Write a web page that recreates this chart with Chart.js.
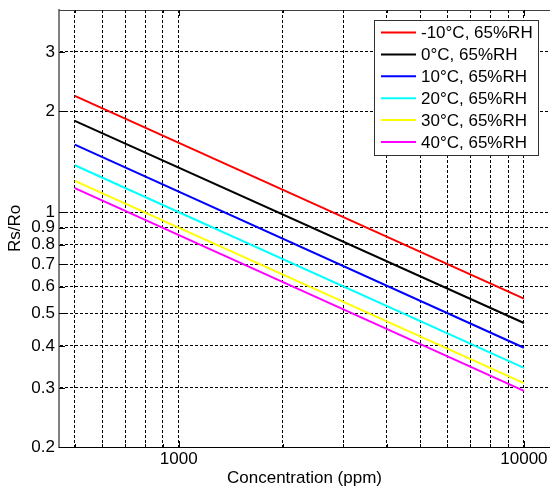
<!DOCTYPE html>
<html>
<head>
<meta charset="utf-8">
<script src="https://cdn.jsdelivr.net/npm/chart.js@4"></script>
<style>
  html, body { margin: 0; padding: 0; background: #fff; }
</style>
</head>
<body>
<canvas id="chart" width="550" height="491"></canvas>
<script>
// Concentration (ppm) at which each curve is sampled
const concentration = [500, 10000];

const seriesLabels = ['-10°C, 65%RH', '0°C, 65%RH', '10°C, 65%RH', '20°C, 65%RH', '30°C, 65%RH', '40°C, 65%RH'];
const seriesColors = ['#ff0000', '#000000', '#0000ff', '#00ffff', '#ffff00', '#ff00ff'];

// Rs/Ro values
const rsRoMinus10 = [2.22, 0.553];
const rsRo0 = [1.87, 0.468];
const rsRo10 = [1.59, 0.395];
const rsRo20 = [1.38, 0.344];
const rsRo30 = [1.24, 0.31];
const rsRo40 = [1.18, 0.294];

const xTicks = [500, 600, 700, 800, 900, 1000, 2000, 3000, 4000, 5000, 6000, 7000, 8000, 9000, 10000];
const xTickLabels = [1000, 10000];
const yTicks = [0.2, 0.3, 0.4, 0.5, 0.6, 0.7, 0.8, 0.9, 1, 2, 3];

const allSeries = [rsRoMinus10, rsRo0, rsRo10, rsRo20, rsRo30, rsRo40];

Chart.defaults.font.family = '"Liberation Sans", Arial, sans-serif';
Chart.defaults.font.size = 17;
Chart.defaults.color = '#000';

// MATLAB style frame: top border, inward ticks and a boxed legend
const framePlugin = {
  id: 'frame',
  afterDraw(chart) {
    const { ctx, chartArea: a, scales } = chart;
    ctx.save();

    ctx.strokeStyle = '#404040';
    ctx.lineWidth = 1;
    ctx.beginPath();
    ctx.moveTo(a.left, a.top + 0.5);
    ctx.lineTo(a.right, a.top + 0.5);
    ctx.stroke();

    // inward ticks
    ctx.strokeStyle = '#000';
    ctx.beginPath();
    xTicks.forEach(v => {
      const px = Math.round(scales.x.getPixelForValue(v)) + 0.5;
      const len = xTickLabels.includes(v) ? 6 : 3;
      ctx.moveTo(px, a.bottom);
      ctx.lineTo(px, a.bottom - len);
      ctx.moveTo(px, a.top);
      ctx.lineTo(px, a.top + len);
    });
    yTicks.forEach(v => {
      const py = Math.round(scales.y.getPixelForValue(v)) + 0.5;
      ctx.moveTo(a.left, py);
      ctx.lineTo(a.left + 6, py);
    });
    ctx.stroke();

    // legend
    const box = { x: 374.5, y: 20.5, w: 164, h: 135 };
    ctx.fillStyle = '#fff';
    ctx.fillRect(box.x, box.y, box.w, box.h);
    ctx.strokeStyle = '#333';
    ctx.strokeRect(box.x, box.y, box.w, box.h);
    ctx.font = '17px "Liberation Sans", Arial, sans-serif';
    ctx.textBaseline = 'middle';
    ctx.textAlign = 'left';
    chart.data.datasets.forEach((ds, i) => {
      const y = 32.5 + i * 21.9;
      ctx.strokeStyle = ds.borderColor;
      ctx.lineWidth = 2;
      ctx.beginPath();
      ctx.moveTo(381, y);
      ctx.lineTo(416, y);
      ctx.stroke();
      ctx.fillStyle = '#000';
      ctx.fillText(ds.label, 421, y + 1);
    });
    ctx.restore();
  }
};

new Chart(document.getElementById('chart'), {
  type: 'line',
  data: {
    datasets: allSeries.map((vals, i) => ({
      label: seriesLabels[i],
      data: vals.map((v, j) => ({ x: concentration[j], y: v })),
      borderColor: seriesColors[i],
      backgroundColor: seriesColors[i],
      borderWidth: 2,
      pointRadius: 0,
      tension: 0,
      fill: false,
    }))
  },
  options: {
    responsive: false,
    animation: false,
    devicePixelRatio: 1,
    layout: { padding: { top: 10, left: 0, right: 0, bottom: 0 } },
    plugins: {
      legend: { display: false },
      tooltip: { enabled: false },
    },
    scales: {
      x: {
        type: 'logarithmic',
        min: 450,
        max: 11900,
        afterBuildTicks: s => { s.ticks = xTicks.map(v => ({ value: v })); },
        afterFit: s => { s.height = 44; s.paddingLeft = 0; s.paddingRight = 0; },
        ticks: {
          autoSkip: false,
          maxRotation: 0,
          padding: 2,
          callback: v => xTickLabels.includes(v) ? String(v) : '',
        },
        grid: {
          color: '#000',
          lineWidth: 1,
          drawTicks: false,
        },
        border: { color: '#000', width: 1, dash: [3, 2] },
        title: {
          display: true,
          text: 'Concentration (ppm)',
          padding: { top: 0, bottom: 2 },
        },
      },
      y: {
        type: 'logarithmic',
        min: 0.2,
        max: 4,
        afterBuildTicks: s => { s.ticks = yTicks.map(v => ({ value: v })); },
        afterFit: s => { s.width = 59; s.paddingTop = 0; s.paddingBottom = 0; },
        ticks: {
          autoSkip: false,
          padding: 4,
          callback: v => String(v),
        },
        grid: {
          color: ctx => (ctx.tick && ctx.tick.value === 0.2) ? 'rgba(0,0,0,0)' : '#000',
          lineWidth: 1,
          drawTicks: false,
        },
        border: { color: '#808080', width: 2, dash: [3, 2] },
        title: {
          display: true,
          text: 'Rs/Ro',
          padding: { top: 5, bottom: 0 },
        },
      }
    }
  },
  plugins: [framePlugin]
});
</script>
</body>
</html>
